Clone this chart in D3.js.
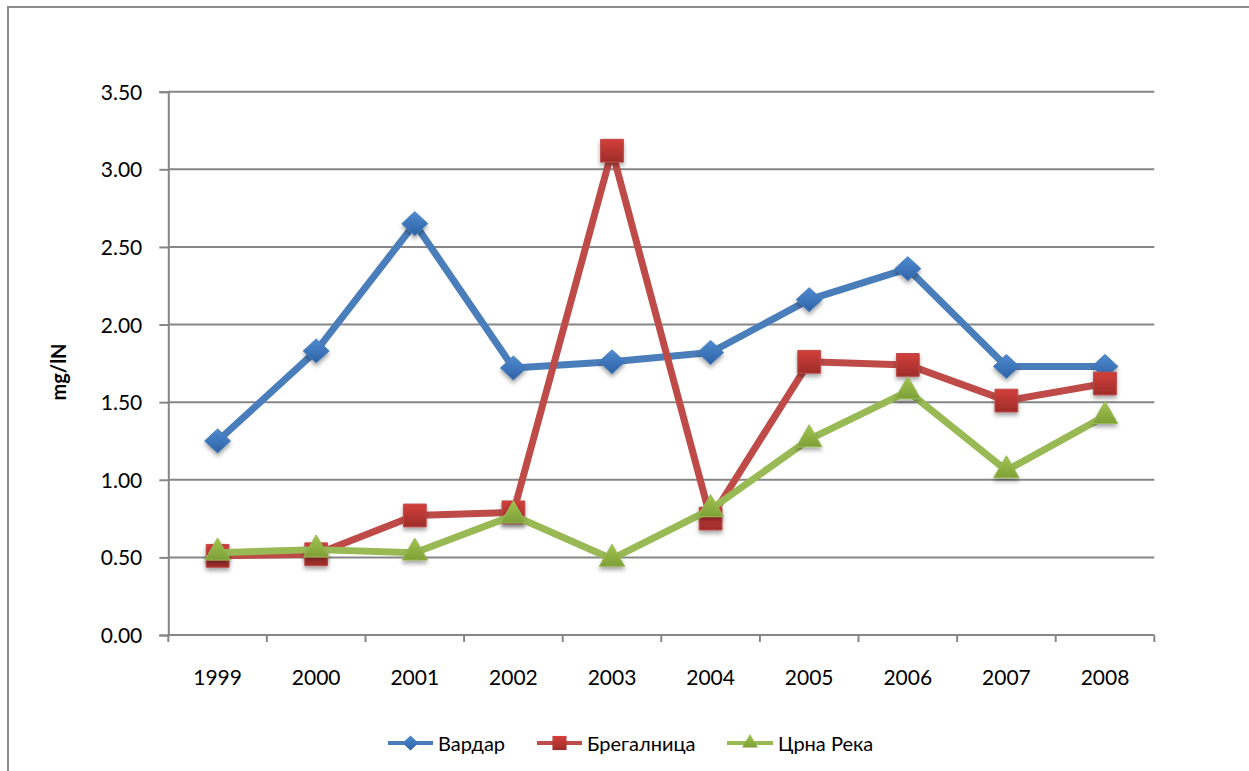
<!DOCTYPE html>
<html>
<head>
<meta charset="utf-8">
<script src="https://cdn.jsdelivr.net/npm/d3@7/dist/d3.min.js"></script>
<style>
  html, body { margin: 0; padding: 0; background: #fff; }
  svg { display: block; }
  text { font-family: Lato, "Open Sans", sans-serif; fill: #000; }
</style>
</head>
<body>
<svg id="chart" width="1249" height="771"></svg>
<script>
// Years on the category axis
const years = ["1999", "2000", "2001", "2002", "2003", "2004", "2005", "2006", "2007", "2008"];
// Concentrations, mg/lN
const vardar     = [1.25, 1.83, 2.65, 1.72, 1.76, 1.82, 2.16, 2.36, 1.73, 1.73];
const bregalnica = [0.51, 0.52, 0.77, 0.79, 3.12, 0.75, 1.76, 1.74, 1.51, 1.62];
const crnaReka   = [0.53, 0.55, 0.53, 0.77, 0.49, 0.81, 1.26, 1.57, 1.06, 1.41];
const seriesNames = ["Вардар", "Брегалница", "Црна Река"];
const yTicks = [0, 0.5, 1, 1.5, 2, 2.5, 3, 3.5];

const series = [
  { name: seriesNames[0], values: vardar,     shape: "diamond",  line: "#4a7ebb", top: "#4f8ad0", bottom: "#2e62a6" },
  { name: seriesNames[1], values: bregalnica, shape: "square",   line: "#be4b48", top: "#d33f3b", bottom: "#9d2d2a" },
  { name: seriesNames[2], values: crnaReka,   shape: "triangle", line: "#98b954", top: "#a3c552", bottom: "#7d9f36" }
];

const svg = d3.select("#chart");
const defs = svg.append("defs");

const shadow = defs.append("filter").attr("id", "shadow")
  .attr("x", "-50%").attr("y", "-50%").attr("width", "200%").attr("height", "200%");
shadow.append("feDropShadow").attr("dx", 0).attr("dy", 3).attr("stdDeviation", 2)
  .attr("flood-color", "#000").attr("flood-opacity", 0.35);

series.forEach((s, i) => {
  const g = defs.append("linearGradient").attr("id", "grad" + i)
    .attr("x1", 0).attr("y1", 0).attr("x2", 0).attr("y2", 1);
  g.append("stop").attr("offset", "0%").attr("stop-color", s.top);
  g.append("stop").attr("offset", "100%").attr("stop-color", s.bottom);
});

// Outer chart frame
svg.append("rect")
  .attr("x", 8).attr("y", 7).attr("width", 1400).attr("height", 900)
  .attr("fill", "none").attr("stroke", "#8c8c8c").attr("stroke-width", 2);

const x = d3.scaleBand().domain(years).range([168.3, 1154.3]).padding(0);
const y = d3.scaleLinear().domain([0, 3.5]).range([635, 91.7]);

// Horizontal gridlines
svg.append("g").selectAll("line").data(yTicks.filter(d => d > 0)).join("line")
  .attr("x1", 168.3).attr("x2", 1154.3)
  .attr("y1", d => y(d)).attr("y2", d => y(d))
  .attr("stroke", "#868686").attr("stroke-width", 2);

// Y axis
const yAxis = svg.append("g").attr("transform", "translate(168.3,0)")
  .call(d3.axisLeft(y).tickValues(yTicks).tickFormat(d3.format(".2f")).tickSize(9).tickPadding(17));
yAxis.select(".domain").attr("stroke", "#868686").attr("stroke-width", 2);
yAxis.selectAll(".tick line").attr("stroke", "#868686").attr("stroke-width", 2);
yAxis.selectAll(".tick text").attr("font-size", 21).attr("font-family", "Lato, sans-serif").attr("fill", "#000").attr("dy", "0.36em");

// X axis with ticks at category boundaries
const xAxisG = svg.append("g").attr("transform", "translate(0,635)");
xAxisG.append("line").attr("x1", 168.3).attr("x2", 1154.3).attr("y1", 0).attr("y2", 0)
  .attr("stroke", "#868686").attr("stroke-width", 2);
const boundaries = years.map(d => x(d)).concat([x(years[years.length - 1]) + x.bandwidth()]);
xAxisG.selectAll("line.tick").data(boundaries).join("line").attr("class", "tick")
  .attr("x1", d => d).attr("x2", d => d).attr("y1", 0).attr("y2", 7)
  .attr("stroke", "#868686").attr("stroke-width", 2);
xAxisG.selectAll("text").data(years).join("text")
  .attr("x", d => x(d) + x.bandwidth() / 2).attr("y", 50)
  .attr("text-anchor", "middle").attr("font-size", 21).text(d => d);

// Y axis title
svg.append("text")
  .attr("transform", "translate(66,372) rotate(-90)")
  .attr("text-anchor", "middle").attr("font-size", 20).attr("font-weight", "bold")
  .text("mg/lN");

function markerPath(shape, k) {
  if (shape === "diamond") {
    const w = 13 * k, h = 12 * k;
    return `M0,${-h}L${w},0L0,${h}L${-w},0Z`;
  }
  if (shape === "square") return d3.symbol(d3.symbolSquare, 520 * k * k)();
  return d3.symbol(d3.symbolTriangle, 280 * k * k)();
}

const line = d3.line().x((d, i) => x(years[i]) + x.bandwidth() / 2).y(d => y(d));

series.forEach((s, i) => {
  const g = svg.append("g");
  g.append("path").datum(s.values).attr("d", line)
    .attr("fill", "none").attr("stroke", s.line).attr("stroke-width", 7)
    .attr("stroke-linejoin", "round");
  g.selectAll("path.m").data(s.values).join("path").attr("class", "m")
    .attr("transform", (d, j) => `translate(${x(years[j]) + x.bandwidth() / 2},${y(d)})`)
    .attr("d", markerPath(s.shape, 1))
    .attr("fill", `url(#grad${i})`)
    .attr("stroke", s.line).attr("stroke-width", 1)
    .attr("filter", "url(#shadow)");
});

// Legend
const legendItems = [
  { lx1: 388, lx2: 433, tx: 438 },
  { lx1: 537, lx2: 582, tx: 587 },
  { lx1: 727, lx2: 773, tx: 778 }
];
const ly = 743;
series.forEach((s, i) => {
  const it = legendItems[i];
  const g = svg.append("g");
  g.append("line").attr("x1", it.lx1).attr("x2", it.lx2).attr("y1", ly).attr("y2", ly)
    .attr("stroke", s.line).attr("stroke-width", 4);
  g.append("path")
    .attr("transform", `translate(${(it.lx1 + it.lx2) / 2},${ly})`)
    .attr("d", markerPath(s.shape, 0.62))
    .attr("fill", `url(#grad${i})`);
  g.append("text").attr("x", it.tx).attr("y", ly + 7.5)
    .attr("font-size", 20).text(s.name);
});
</script>
</body>
</html>
